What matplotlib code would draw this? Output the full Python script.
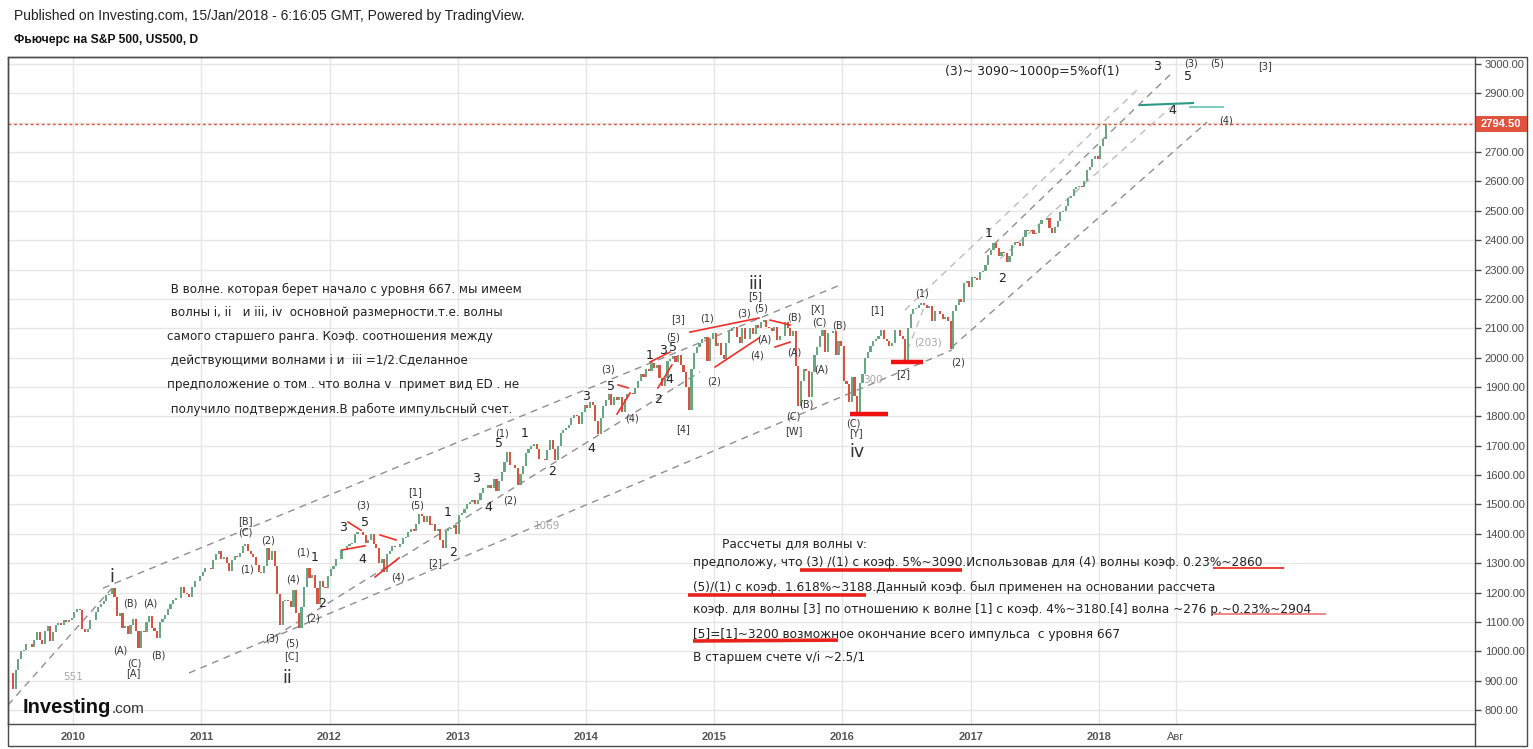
import numpy as np
import matplotlib
matplotlib.use("Agg")
import matplotlib.pyplot as plt
from matplotlib.patches import Rectangle
from matplotlib.lines import Line2D
import matplotlib.transforms as mtransforms

# ---------------- data: weekly closes (4 per month) ----------------
close_2009 = [925, 870, 935, 975, 1000, 1005, 1025, 1025, 1015, 1040, 1065, 1040,
              1025, 1070, 1085, 1035, 1065, 1090, 1095, 1090, 1105, 1100, 1105, 1112]  # Jul-Dec
close_2010 = [1135, 1145, 1140, 1075, 1065, 1075, 1105, 1105, 1135, 1150, 1160, 1170,
              1190, 1195, 1215, 1185, 1120, 1130, 1080, 1085, 1060, 1090, 1110, 1070,
              1010, 1070, 1065, 1100, 1120, 1080, 1070, 1045, 1100, 1110, 1125, 1145,
              1160, 1175, 1180, 1180, 1220, 1200, 1195, 1185, 1220, 1240, 1240, 1255]
close_2011 = [1270, 1285, 1285, 1280, 1310, 1330, 1340, 1315, 1320, 1300, 1275, 1310,
              1325, 1320, 1335, 1360, 1365, 1340, 1330, 1320, 1295, 1270, 1265, 1290,
              1350, 1310, 1340, 1290, 1195, 1090, 1170, 1175, 1170, 1150, 1210, 1130,
              1080, 1150, 1220, 1285, 1250, 1260, 1215, 1160, 1240, 1220, 1215, 1255]
close_2012 = [1280, 1290, 1315, 1315, 1345, 1345, 1360, 1365, 1370, 1400, 1405, 1405,
              1395, 1370, 1380, 1400, 1365, 1350, 1300, 1315, 1270, 1330, 1340, 1360,
              1355, 1355, 1365, 1385, 1390, 1405, 1415, 1410, 1435, 1468, 1460, 1440,
              1460, 1430, 1435, 1410, 1415, 1380, 1350, 1410, 1415, 1420, 1430, 1400]
close_2013 = [1465, 1470, 1485, 1500, 1510, 1515, 1500, 1515, 1540, 1555, 1555, 1565,
              1555, 1585, 1545, 1580, 1610, 1645, 1680, 1635, 1635, 1625, 1565, 1605,
              1630, 1675, 1690, 1700, 1705, 1690, 1655, 1655, 1650, 1685, 1720, 1690,
              1650, 1700, 1745, 1755, 1760, 1770, 1795, 1805, 1800, 1775, 1815, 1840]
close_2014 = [1830, 1848, 1840, 1785, 1740, 1795, 1835, 1855, 1875, 1840, 1865, 1855,
              1865, 1815, 1860, 1875, 1880, 1875, 1895, 1920, 1945, 1935, 1960, 1955,
              1980, 1965, 1975, 1930, 1905, 1930, 1990, 1995, 2005, 1985, 2010, 1975,
              1950, 1900, 1820, 1960, 2015, 2035, 2050, 2065, 2070, 1990, 2065, 2085]
close_2015 = [2040, 2050, 2010, 1995, 2050, 2090, 2100, 2105, 2070, 2050, 2100, 2065,
              2065, 2100, 2080, 2110, 2100, 2120, 2128, 2105, 2100, 2090, 2105, 2060,
              2075, 2075, 2120, 2100, 2075, 2090, 1970, 1835, 1920, 1960, 1955, 1865,
              1950, 2010, 2035, 2075, 2095, 2020, 2085, 2085, 2090, 2010, 2055, 2040]
close_2016 = [1920, 1910, 1850, 1935, 1870, 1805, 1915, 1945, 2000, 2020, 2040, 2055,
              2065, 2075, 2095, 2065, 2055, 2040, 2050, 2095, 2095, 2075, 2065, 1990,
              2100, 2150, 2165, 2170, 2180, 2185, 2180, 2170, 2175, 2125, 2160, 2160,
              2150, 2130, 2140, 2125, 2030, 2160, 2180, 2200, 2190, 2255, 2260, 2240]
close_2017 = [2275, 2270, 2265, 2290, 2295, 2315, 2350, 2365, 2390, 2375, 2345, 2360,
              2355, 2325, 2345, 2385, 2395, 2390, 2380, 2410, 2435, 2430, 2435, 2420,
              2425, 2455, 2470, 2470, 2475, 2440, 2425, 2445, 2465, 2495, 2500, 2515,
              2545, 2550, 2575, 2580, 2585, 2580, 2600, 2640, 2650, 2675, 2685, 2675]
close_2018 = [2720, 2745, 2794.5]
series_starts = [2009.5, 2010, 2011, 2012, 2013, 2014, 2015, 2016, 2017, 2018]
series_closes = [close_2009, close_2010, close_2011, close_2012, close_2013,
                 close_2014, close_2015, close_2016, close_2017, close_2018]
last_price = 2794.5

y_ticks = list(range(800, 3001, 100))
x_ticks = [2010, 2011, 2012, 2013, 2014, 2015, 2016, 2017, 2018, 2018.6]
x_tick_labels = ["2010", "2011", "2012", "2013", "2014", "2015", "2016", "2017", "2018", "Авг"]

# wave labels (text, year, price)
labels_small = [("(B)", 2010.444, 1164), ("(A)", 2010.600, 1164), ("(A)", 2010.366, 1004),
                ("(C)", 2010.476, 960), ("[A]", 2010.468, 926), ("(B)", 2010.663, 987),
                ("[B]", 2011.341, 1444), ("(C)", 2011.341, 1403), ("(2)", 2011.520, 1376),
                ("(1)", 2011.357, 1280), ("(1)", 2011.793, 1338), ("(4)", 2011.715, 1246),
                ("(2)", 2011.871, 1113), ("(3)", 2011.552, 1045), ("(5)", 2011.708, 1028),
                ("[C]", 2011.700, 984), ("(3)", 2012.261, 1498), ("(4)", 2012.534, 1250),
                ("[1]", 2012.667, 1542), ("(5)", 2012.682, 1495), ("[2]", 2012.823, 1301),
                ("(2)", 2013.408, 1512), ("(1)", 2013.345, 1740), ("(3)", 2014.172, 1958),
                ("(4)", 2014.359, 1794), ("(5)", 2014.678, 2070), ("[3]", 2014.717, 2132),
                ("[4]", 2014.756, 1757), ("(1)", 2014.943, 2132), ("(2)", 2014.998, 1917),
                ("(3)", 2015.235, 2150), ("(5)", 2015.362, 2169), ("[5]", 2015.318, 2210),
                ("(A)", 2015.388, 2063), ("(4)", 2015.333, 2006), ("(B)", 2015.622, 2135),
                ("(A)", 2015.622, 2016), ("(C)", 2015.614, 1798), ("[W]", 2015.622, 1750),
                ("(B)", 2015.715, 1839), ("[X]", 2015.801, 2166), ("(C)", 2015.817, 2121),
                ("(B)", 2015.973, 2108), ("(A)", 2015.832, 1958), ("(C)", 2016.082, 1774),
                ("[Y]", 2016.105, 1743), ("[1]", 2016.269, 2162), ("[2]", 2016.472, 1944),
                ("(1)", 2016.620, 2220), ("(2)", 2016.901, 1985), ("(3)", 2018.717, 3000),
                ("(5)", 2018.920, 3003), ("[3]", 2019.294, 2993), ("(4)", 2018.990, 2806)]
labels_mid = [("1", 2011.887, 1318), ("2", 2011.942, 1164), ("3", 2012.105, 1420),
              ("5", 2012.277, 1440), ("4", 2012.253, 1314), ("1", 2012.924, 1471),
              ("2", 2012.963, 1335), ("3", 2013.142, 1587), ("4", 2013.236, 1491),
              ("5", 2013.322, 1706), ("1", 2013.525, 1740), ("2", 2013.735, 1611),
              ("3", 2014.0, 1869), ("4", 2014.039, 1692), ("5", 2014.195, 1903),
              ("1", 2014.499, 2006), ("3", 2014.601, 2023), ("5", 2014.678, 2036),
              ("4", 2014.647, 1924), ("2", 2014.561, 1859), ("1", 2017.142, 2424),
              ("2", 2017.244, 2271), ("3", 2018.452, 2993), ("5", 2018.694, 2959),
              ("4", 2018.569, 2840)]
labels_big = [("i", 2010.304, 1253), ("ii", 2011.669, 909), ("iii", 2015.326, 2251),
              ("iv", 2016.113, 1679)]
labels_gray = [("551", 2010.0, 912), ("1069", 2013.696, 1427), ("300", 2016.238, 1924),
               ("(203)", 2016.667, 2050)]

# dashed channel lines ((x0, y0), (x1, y1), shade)
channel_lines = [((2009.493, 817), (2010.304, 1215), "dark"),
                 ((2010.234, 1215), (2015.980, 2247), "dark"),
                 ((2010.904, 926), (2016.854, 2026), "dark"),
                 ((2011.489, 1028), (2014.889, 1951), "dark"),
                 ((2016.854, 2036), (2018.842, 2802), "dark"),
                 ((2016.487, 2162), (2018.296, 2911), "light"),
                 ((2017.111, 2356), (2018.577, 2973), "dark"),
                 ((2017.228, 2336), (2018.608, 2871), "light"),
                 ((2016.472, 1985), (2016.643, 2179), "light")]
red_thin = [((2012.144, 1440), (2012.246, 1412)), ((2012.097, 1345), (2012.277, 1359)),
            ((2012.394, 1396), (2012.519, 1379)), ((2012.355, 1253), (2012.542, 1318)),
            ((2014.250, 1907), (2014.328, 1897)), ((2014.242, 1808), (2014.343, 1879)),
            ((2014.499, 1985), (2014.655, 2019)), ((2014.561, 1897), (2014.670, 1975)),
            ((2014.811, 2087), (2015.349, 2135)), ((2015.006, 1968), (2015.349, 2067)),
            ((2015.435, 2128), (2015.591, 2111)), ((2015.474, 2036), (2015.591, 2053))]
red_bars = [((2016.058, 1808), (2016.355, 1808)), ((2016.378, 1985), (2016.628, 1985))]
teal_lines = [((2018.320, 2860), (2018.733, 2867), "#2a9a86"),
              ((2018.709, 2854), (2018.967, 2854), "#7fcdbd")]

note_left = [" В волне. которая берет начало с уровня 667. мы имеем",
             " волны i, ii   и iii, iv  основной размерности.т.е. волны",
             "самого старшего ранга. Коэф. соотношения между",
             " действующими волнами i и  iii =1/2.Сделанное",
             "предположение о том . что волна v  примет вид ED . не",
             " получило подтверждения.В работе импульсный счет."]
note_left_pos = [2233.8, 2152.0, 2070.3, 1988.6, 1906.8, 1825.1]
note_bottom = ["Рассчеты для волны v:",
               "предположу, что (3) /(1) с коэф. 5%~3090.Использовав для (4) волны коэф. 0.23%~2860",
               "(5)/(1) с коэф. 1.618%~3188.Данный коэф. был применен на основании рассчета",
               "коэф. для волны [3] по отношению к волне [1] с коэф. 4%~3180.[4] волна ~276 р.~0.23%~2904",
               "[5]=[1]~3200 возможное окончание всего импульса  с уровня 667",
               "В старшем счете v/i ~2.5/1"]
note_bottom_pos = [1365.3, 1300.6, 1218.9, 1140.6, 1055.4, 977.1]
underlines = [((2015.669, 1277), (2016.932, 1277), 2.6, "#e8231c"),
              ((2018.889, 1284), (2019.442, 1284), 1.2, "#e8231c"),
              ((2014.795, 1192), (2016.183, 1192), 2.6, "#e8231c"),
              ((2018.881, 1127), (2019.770, 1127), 1.2, "#f07070"),
              ((2014.834, 1035), (2015.965, 1038), 2.6, "#e8231c")]

# ---------------- figure ----------------
W, H = 1533, 749
fig = plt.figure(figsize=(W / 100, H / 100), dpi=100)
fig.patch.set_facecolor("white")


def fx(px):
    return px / W


def fy(py):
    return 1 - py / H


ax = fig.add_axes([fx(8), fy(724), fx(1475) - fx(8), fy(57) - fy(724)])
ax.set_xlim(2009.493, 2020.932)
ax.set_ylim(752.3, 3023.8)

# candles
xs, cs = [], []
for start, vals in zip(series_starts, series_closes):
    for i, v in enumerate(vals):
        xs.append(start + (i + 0.5) / 48)
        cs.append(v)
xs = np.array(xs)
cs = np.array(cs, dtype=float)
os_ = np.r_[cs[0], cs[:-1]]
up = cs >= os_
cols = np.where(up, "#6ba583", "#d75442")
ax.bar(xs, cs - os_, bottom=os_, width=0.8 / 48, color=cols, linewidth=0, zorder=3)

# grid / axes
ax.yaxis.tick_right()
ax.set_yticks(y_ticks)
ax.set_yticklabels(["" if v == 2800 else f"{v:.2f}" for v in y_ticks],
                   fontsize=8, color="#4a4a4a", family="Liberation Sans")
ax.tick_params(axis="y", length=4, width=1, color="#4a4a4a", pad=3)
ax.set_xticks(x_ticks)
ax.set_xticklabels(x_tick_labels, fontsize=8, color="#555555", family="Liberation Sans",
                   fontweight="bold")
ax.get_xticklabels()[-1].set_fontweight("normal")
ax.tick_params(axis="x", length=0, pad=6)
ax.grid(True, color="#e6e6e6", lw=1, zorder=0)
ax.set_axisbelow(True)
for s in ax.spines.values():
    s.set_color("#4a4a4a")
    s.set_linewidth(1)

# channel lines
for (p0, p1, shade) in channel_lines:
    ax.plot([p0[0], p1[0]], [p0[1], p1[1]], ls=(0, (5, 4)), lw=1,
            color="#8f8f8f" if shade == "dark" else "#bdbdbd", zorder=2)
for (p0, p1) in red_thin:
    ax.plot([p0[0], p1[0]], [p0[1], p1[1]], color="#f0302a", lw=1.2, zorder=4)
for (p0, p1) in red_bars:
    ax.plot([p0[0], p1[0]], [p0[1], p1[1]], color="#f01010", lw=3.2, zorder=4,
            solid_capstyle="butt")
for (p0, p1, c) in teal_lines:
    ax.plot([p0[0], p1[0]], [p0[1], p1[1]], color=c, lw=1.5, zorder=4)
for (p0, p1, lw, c) in underlines:
    ax.plot([p0[0], p1[0]], [p0[1], p1[1]], color=c, lw=lw, zorder=4,
            solid_capstyle="butt")

# last-price line and tag
ax.axhline(last_price, color="#e0533d", lw=1, ls=(0, (2, 2)), zorder=3)
btr = mtransforms.blended_transform_factory(fig.transFigure, ax.transData)
ppx = (3023.8 - 752.3) / (724 - 57)
fig.add_artist(Rectangle((fx(1476), last_price - 8 * ppx), fx(1527) - fx(1476), 16 * ppx,
                         transform=btr, fc="#e0533d", ec="none", zorder=10))
fig.text(fx(1481), last_price, f"{last_price:.2f}", transform=btr, color="white", fontsize=8,
         fontweight="bold", family="Liberation Sans", va="center", ha="left", zorder=11)

# wave labels
for t, x, y in labels_small:
    ax.text(x, y, t, fontsize=7, color="#333333", ha="center", va="center", zorder=5)
for t, x, y in labels_mid:
    ax.text(x, y, t, fontsize=9, color="#222222", ha="center", va="center", zorder=5)
for t, x, y in labels_big:
    ax.text(x, y, t, fontsize=12.5, color="#333333", ha="center", va="center", zorder=5)
for t, x, y in labels_gray:
    ax.text(x, y, t, fontsize=7.5, color="#a8a8a8", ha="center", va="center", zorder=5)
ax.text(2017.478, 2976, "(3)~ 3090~1000p=5%of(1)", fontsize=9, color="#222222",
        ha="center", va="center", zorder=5)

# text notes
for t, y in zip(note_left, note_left_pos):
    ax.text(2010.733, y, t, fontsize=8.6, color="#222222", ha="left", va="center", zorder=5)
for i, (t, y) in enumerate(zip(note_bottom, note_bottom_pos)):
    ax.text(2015.060 if i == 0 else 2014.834, y, t, fontsize=8.75, color="#222222",
            ha="left", va="center", zorder=5)

# frame
fig.add_artist(Rectangle((fx(8), fy(746)), fx(1527) - fx(8), fy(57) - fy(746),
                         transform=fig.transFigure, fill=False, ec="#4a4a4a", lw=1))
fig.add_artist(Line2D([fx(1475), fx(1475)], [fy(724), fy(746)], transform=fig.transFigure,
                      color="#4a4a4a", lw=1))

# header
fig.text(fx(14), fy(16), "Published on Investing.com, 15/Jan/2018 - 6:16:05 GMT, Powered by TradingView.",
         fontsize=10, family="Liberation Sans", color="#222222", va="center", ha="left")
fig.text(fx(14), fy(40), "Фьючерс на S&P 500, US500, D", fontsize=8.7, family="Liberation Sans",
         fontweight="bold", color="#111111", va="center", ha="left")

# logo
fig.text(fx(23), fy(713), "Investing", fontsize=14.5, family="Liberation Sans", fontweight="bold",
         color="#111111", va="baseline", ha="left")
fig.text(fx(112), fy(713), ".com", fontsize=11, family="Liberation Sans", color="#333333",
         va="baseline", ha="left")

fig.savefig("out.png", dpi=100)
